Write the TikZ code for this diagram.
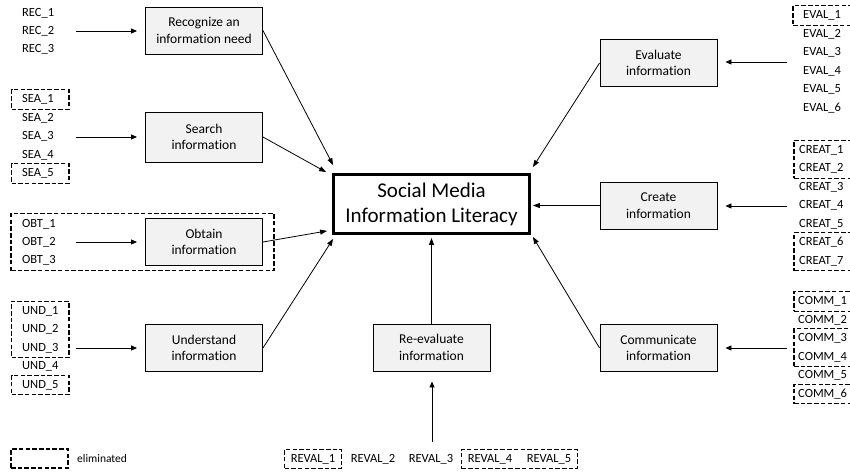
\documentclass[tikz,border=0pt]{standalone}
\usepackage{fontspec}
\setmainfont{Carlito}[Ligatures={NoCommon}]
\usetikzlibrary{fit,arrows.meta}
\definecolor{boxgray}{RGB}{242,242,242}

\begin{document}
\begin{tikzpicture}[x=1pt,y=-1pt,
skill/.style={%
draw,fill=boxgray,line width=0.9pt,align=center,inner sep=2pt,
minimum width=117pt,minimum height=47pt,
font=\fontsize{13.5}{16.5}\selectfont
},
core/.style={%
draw,line width=2.8pt,align=center,
minimum width=196pt,minimum height=59pt,
font=\fontsize{21}{25}\selectfont
},
item/.style={%
inner sep=0pt,text height=9pt,text depth=3pt,
font=\fontsize{12.5}{15}\selectfont
},
lcol/.style={item,anchor=west,text width=36pt,align=left},
rcol/.style={item,anchor=west,text width=50pt,align=left},
elim/.style={%
draw,line width=1.3pt,dash pattern=on 4.5pt off 2.2pt,
inner xsep=10.5pt,inner ysep=3.5pt
},
feed/.style={-{Triangle[length=6pt,width=5pt]},line width=0.9pt,shorten >=8pt},
link/.style={-{Triangle[length=7pt,width=5pt]},line width=0.8pt}]
\useasboundingbox (0,0) rectangle (850,472);
\clip (0,0) rectangle (850,472);
% skills
\node[core]at(431.5,204)(smil){Social Media\\Information Literacy};
\node[skill]at(204,30.5)(rec){Recognize an\\information need};
\node[skill,minimum height=50pt]at(204,137)(sea){Search\\information};
\node[skill]at(204,242)(obt){Obtain\\information};
\node[skill]at(204,348)(und){Understand\\information};
\node[skill]at(658.5,63)(eval){Evaluate\\information};
\node[skill]at(658.5,205.5)(crea){Create\\information};
\node[skill]at(658.5,348)(comm){Communicate\\information};
\node[skill]at(431.5,347.5)(rev){Re-evaluate\\information};
% items left
\node[lcol]at(22,13)(rec1){REC\_1};
\node[lcol]at(22,31)(rec2){REC\_2};
\node[lcol]at(22,49)(rec3){REC\_3};
\node[lcol]at(22,99.5)(sea1){SEA\_1};
\node[lcol]at(22,118)(sea2){SEA\_2};
\node[lcol]at(22,136.5)(sea3){SEA\_3};
\node[lcol]at(22,155)(sea4){SEA\_4};
\node[lcol]at(22,173.5)(sea5){SEA\_5};
\node[lcol]at(22,224)(obt1){OBT\_1};
\node[lcol]at(22,242)(obt2){OBT\_2};
\node[lcol]at(22,260)(obt3){OBT\_3};
\node[lcol]at(22,311)(und1){UND\_1};
\node[lcol]at(22,329.5)(und2){UND\_2};
\node[lcol]at(22,348)(und3){UND\_3};
\node[lcol]at(22,366.5)(und4){UND\_4};
\node[lcol]at(22,385)(und5){UND\_5};
% items right
\node[rcol]at(803,15.5)(eval1){EVAL\_1};
\node[rcol]at(803,34)(eval2){EVAL\_2};
\node[rcol]at(803,52.5)(eval3){EVAL\_3};
\node[rcol]at(803,71)(eval4){EVAL\_4};
\node[rcol]at(803,89.5)(eval5){EVAL\_5};
\node[rcol]at(803,108)(eval6){EVAL\_6};
\node[rcol]at(799,150)(crea1){CREAT\_1};
\node[rcol]at(799,168.5)(crea2){CREAT\_2};
\node[rcol]at(799,187)(crea3){CREAT\_3};
\node[rcol]at(799,205.5)(crea4){CREAT\_4};
\node[rcol]at(799,224)(crea5){CREAT\_5};
\node[rcol]at(799,242.5)(crea6){CREAT\_6};
\node[rcol]at(799,261)(crea7){CREAT\_7};
\node[rcol]at(798,301.5)(comm1){COMM\_1};
\node[rcol]at(798,320)(comm2){COMM\_2};
\node[rcol]at(798,338.5)(comm3){COMM\_3};
\node[rcol]at(798,357)(comm4){COMM\_4};
\node[rcol]at(798,375.5)(comm5){COMM\_5};
\node[rcol]at(798,394)(comm6){COMM\_6};
% items bottom
\node[item]at(313,459)(rev1){REVAL\_1};
\node[item]at(373,459)(rev2){REVAL\_2};
\node[item]at(431,459)(rev3){REVAL\_3};
\node[item]at(490,459)(rev4){REVAL\_4};
\node[item]at(549,459)(rev5){REVAL\_5};
% eliminated
\node[elim,fit=(sea1)]{};
\node[elim,fit=(sea5)]{};
\node[elim,fit=(obt1)(obt3)(obt),inner ysep=4.5pt,inner xsep=11pt]{};
\node[elim,fit=(und1)(und3)]{};
\node[elim,fit=(und5)]{};
\node[elim,fit=(eval1),inner xsep=10pt]{};
\node[elim,fit=(crea1)(crea2),inner xsep=5pt]{};
\node[elim,fit=(crea6)(crea7),inner xsep=5pt]{};
\node[elim,fit=(comm1),inner xsep=4pt]{};
\node[elim,fit=(comm3)(comm4),inner xsep=4pt]{};
\node[elim,fit=(comm6),inner xsep=4pt]{};
\node[elim,fit=(rev1),inner xsep=6pt]{};
\node[elim,fit=(rev4)(rev5),inner xsep=6pt]{};
\node[elim,inner sep=0pt,minimum width=57pt,minimum height=19pt]at(39.5,458.5)(legbox){};
\node[item,anchor=west,font=\fontsize{11.5}{14}\selectfont]at(77,459)(legtxt){eliminated};
% feeders
\coordinate (recin) at (76,31);
\coordinate (seain) at (76,137);
\coordinate (obtin) at (76,242);
\coordinate (undin) at (76,348);
\coordinate (evalin) at (787,62);
\coordinate (creain) at (787,206);
\coordinate (commin) at (787,348);
\coordinate (revin) at (432,442);
\draw [feed] (recin)--(recin-|rec.west);
\draw [feed] (seain)--(seain-|sea.west);
\draw [feed] (obtin)--(obtin-|obt.west);
\draw [feed] (undin)--(undin-|und.west);
\draw [feed] (evalin)--(evalin-|eval.east);
\draw [feed] (creain)--(creain-|crea.east);
\draw [feed] (commin)--(commin-|comm.east);
\draw [feed,shorten >=10pt] (revin)--(revin|-rev.south);
% links to core
\draw [link] (rec.east)--([shift={(1,-8)}]smil.north west);
\draw [link] (sea.east)--([shift={(-6,-1)}]smil.north west);
\draw [link] (obt.east)--([shift={(-5,-4)}]smil.south west);
\draw [link] (und.east)--([shift={(1,4)}]smil.south west);
\draw [link] (eval.west)--([shift={(2,-6)}]smil.north east);
\draw [link,shorten >=2pt] (crea.west)--(crea.west-|smil.east);
\draw [link] (comm.west)--([shift={(2,2)}]smil.south east);
\draw [link,shorten >=3pt] (rev.north)--(smil.south);
\end{tikzpicture}
\end{document}
